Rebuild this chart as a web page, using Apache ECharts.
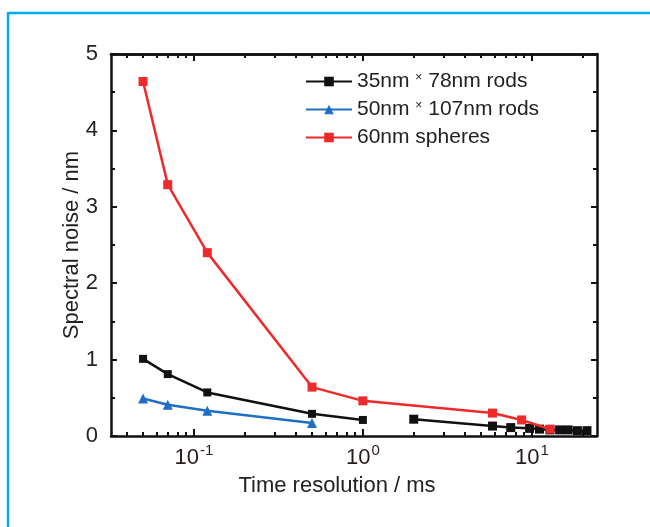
<!DOCTYPE html>
<html><head><meta charset="utf-8">
<script src="https://cdn.jsdelivr.net/npm/echarts@6/dist/echarts.min.js"></script>
<style>html,body{margin:0;padding:0;background:#fff}#c{width:650px;height:527px}</style>
</head><body><div id="c"></div>
<script>
// ---- data ----
const rods35X = [0.05, 0.07, 0.12, 0.5, 1.0];
const rods35Y = [1.01, 0.81, 0.57, 0.29, 0.21];
const rods35TailX = [2.0, 5.85, 7.5, 9.7, 11.1, 12.8, 14.6, 16.4, 18.6, 21.2];
const rods35TailY = [0.22, 0.13, 0.11, 0.10, 0.09, 0.08, 0.08, 0.08, 0.07, 0.07];
const rods50X = [0.05, 0.07, 0.12, 0.5];
const rods50Y = [0.49, 0.41, 0.33, 0.17];
const sphereX = [0.05, 0.07, 0.12, 0.5, 1.0, 5.85, 8.7, 12.8];
const sphereY = [4.64, 3.29, 2.40, 0.64, 0.46, 0.30, 0.21, 0.09];
const xMajorTicks = [0.1, 1, 10];
const xMinorTicks = [0.04, 0.05, 0.06, 0.07, 0.08, 0.09, 0.2, 0.3, 0.4, 0.5, 0.6, 0.7, 0.8, 0.9, 2, 3, 4, 5, 6, 7, 8, 9, 20];
const seriesNames = ['35nm × 78nm rods', '50nm × 107nm rods', '60nm spheres'];

const zip = (xs, ys) => xs.map((x, i) => [x, ys[i]]);
const FONT = '"Liberation Sans", Arial, sans-serif';
const XMIN = 0.0323, XMAX = 24.3;
const AX = {color: '#111', width: 2.5};

function xAxisDef(pos, ticks, len, labels) {
  return {
    type: 'log', logBase: 10, min: XMIN, max: XMAX, position: pos,
    gridIndex: 0,
    axisLine: {show: labels !== null || pos === 'top', lineStyle: AX, onZero: false},
    axisTick: {show: true, inside: true, length: len, lineStyle: {color: '#111', width: 2}, customValues: ticks},
    axisLabel: labels ? {
      show: true, customValues: xMajorTicks, margin: 7,
      formatter: v => '{b|10}{s|' + Math.round(Math.log10(v)) + '}',
      rich: {
        b: {fontSize: 22, fontFamily: FONT, color: '#2a1a1a', lineHeight: 26, verticalAlign: 'bottom'},
        s: {fontSize: 15, fontFamily: FONT, color: '#2a1a1a', lineHeight: 26, verticalAlign: 'top', padding: [0, 0, 0, 1]}
      }
    } : {show: false},
    splitLine: {show: false},
    name: labels ? 'Time resolution / ms' : '',
    nameLocation: 'middle', nameGap: 39, nameMoveOverlap: false,
    nameTextStyle: {fontSize: 22, fontFamily: FONT, color: '#222', padding: [0, 34, 0, 0]}
  };
}

const chart = echarts.init(document.getElementById('c'), null, {renderer: 'canvas'});
chart.setOption({
  backgroundColor: '#fff',
  animation: false,
  grid: {left: 111, right: 53, top: 54, bottom: 91, containLabel: false},
  xAxis: [
    xAxisDef('bottom', xMajorTicks, 7, true),
    xAxisDef('bottom', xMinorTicks, 4, null),
    xAxisDef('top', xMajorTicks, 7, null),
    xAxisDef('top', xMinorTicks, 4, null)
  ],
  yAxis: [
    {
      type: 'value', min: 0, max: 5, interval: 1, position: 'left',
      axisLine: {show: true, lineStyle: AX},
      axisTick: {show: true, inside: true, length: 6, lineStyle: {color: '#111', width: 2}},
      minorTick: {show: true, splitNumber: 2, length: 4, lineStyle: {color: '#111', width: 2}},
      axisLabel: {fontSize: 22, fontFamily: FONT, color: '#222', margin: 13},
      splitLine: {show: false},
      name: 'Spectral noise / nm', nameLocation: 'middle', nameGap: 28, nameMoveOverlap: false,
      nameTextStyle: {fontSize: 22, fontFamily: FONT, color: '#222'}
    },
    {
      type: 'value', min: 0, max: 5, interval: 1, position: 'right',
      axisLine: {show: true, lineStyle: AX},
      axisTick: {show: true, inside: true, length: 6, lineStyle: {color: '#111', width: 2}},
      minorTick: {show: true, splitNumber: 2, length: 4, lineStyle: {color: '#111', width: 2}},
      axisLabel: {show: false},
      splitLine: {show: false}
    }
  ],
  legend: {
    orient: 'vertical', left: 300, top: 66,
    itemWidth: 46, itemHeight: 12, itemGap: 7,
    data: seriesNames,
    textStyle: {fontSize: 21, fontFamily: FONT, color: '#222', lineHeight: 20,
      rich: {x: {fontSize: 12, fontFamily: FONT, color: '#222', verticalAlign: 'top', lineHeight: 20}}},
    formatter: n => n.replace('×', '{x|×}')
  },
  series: [
    {
      name: seriesNames[0], type: 'line', data: zip(rods35X, rods35Y),
      color: '#111', symbol: 'rect', symbolSize: 8,
      lineStyle: {width: 2.5, color: '#111'}, itemStyle: {color: '#111'}, z: 3
    },
    {
      name: seriesNames[0], type: 'line', data: zip(rods35TailX, rods35TailY),
      color: '#111', symbol: 'rect', symbolSize: 9,
      lineStyle: {width: 2.5, color: '#111'}, itemStyle: {color: '#111'}, z: 3
    },
    {
      name: seriesNames[1], type: 'line', data: zip(rods50X, rods50Y),
      color: '#1f6fc4', symbol: 'triangle', symbolSize: 10,
      lineStyle: {width: 2.5, color: '#1f6fc4'}, itemStyle: {color: '#1f6fc4'}, z: 4
    },
    {
      name: seriesNames[2], type: 'line', data: zip(sphereX, sphereY),
      color: '#ee2a2a', symbol: 'rect', symbolSize: 9,
      lineStyle: {width: 2.5, color: '#ee2a2a'}, itemStyle: {color: '#ee2a2a'}, z: 5
    }
  ],
  graphic: [
    {type: 'line', shape: {x1: 8, y1: 13, x2: 650, y2: 13}, style: {stroke: '#00aeef', lineWidth: 2.5}},
    {type: 'line', shape: {x1: 8, y1: 12, x2: 8, y2: 527}, style: {stroke: '#00aeef', lineWidth: 2.5}}
  ]
});
</script></body></html>
